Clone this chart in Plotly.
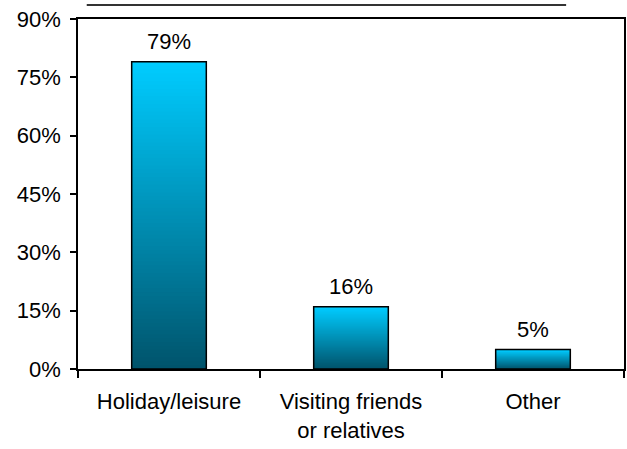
import plotly.graph_objects as go

categories = ["Holiday/leisure", "Visiting friends<br>or relatives", "Other"]
values = [79, 16, 5]
y_ticks = [0, 15, 30, 45, 60, 75, 90]
y_tick_labels = ["0%", "15%", "30%", "45%", "60%", "75%", "90%"]

FONT = "Liberation Sans, Arial, sans-serif"
BAR_W = 0.41
N = 80
dark = (0, 84, 108)
light = (0, 204, 255)

fig = go.Figure()

# gradient fill: each band runs from its base to the bar top, painted bottom-up
for i in range(N):
    t = i / (N - 1)
    col = "rgb({},{},{})".format(*[round(d + (l - d) * t) for d, l in zip(dark, light)])
    fig.add_trace(go.Bar(
        x=categories,
        y=[v * (1 - i / N) for v in values],
        base=[v * i / N for v in values],
        width=BAR_W,
        marker=dict(color=col, line=dict(width=0)),
        hoverinfo="skip",
        showlegend=False,
    ))

# outline
fig.add_trace(go.Bar(
    x=categories,
    y=values,
    width=BAR_W,
    marker=dict(color="rgba(0,0,0,0)", line=dict(color="black", width=1.5)),
    hoverinfo="skip",
    showlegend=False,
))

for c, v in zip(categories, values):
    fig.add_annotation(
        x=c, y=v, text=f"{v}%", showarrow=False,
        yanchor="bottom", yshift=6,
        font=dict(family=FONT, size=22, color="black"),
    )

fig.add_shape(
    type="line", xref="paper", yref="paper",
    x0=0.016, x1=0.894, y0=1.04, y1=1.04,
    line=dict(color="#333333", width=2),
)

fig.update_layout(
    width=627, height=449,
    margin=dict(l=78, r=1, t=19, b=80),
    barmode="overlay",
    plot_bgcolor="white",
    paper_bgcolor="white",
    font=dict(family=FONT, size=22, color="black"),
)
fig.update_xaxes(
    type="category",
    range=[-0.5, 2.5],
    showline=True, linecolor="black", linewidth=1.5, mirror=True,
    ticks="outside", ticklen=7, tickwidth=1.5, tickcolor="black",
    tickson="boundaries",
    ticklabelstandoff=12,
    showgrid=False,
    tickfont=dict(family=FONT, size=22, color="black"),
)
fig.update_yaxes(
    range=[0, 90],
    tickvals=y_ticks, ticktext=y_tick_labels,
    showline=True, linecolor="black", linewidth=1.5, mirror=True,
    ticks="outside", ticklen=6, tickwidth=1.5, tickcolor="black",
    ticklabelstandoff=5,
    showgrid=False, zeroline=False,
    tickfont=dict(family=FONT, size=22, color="black"),
)

fig.write_html("out.html")
